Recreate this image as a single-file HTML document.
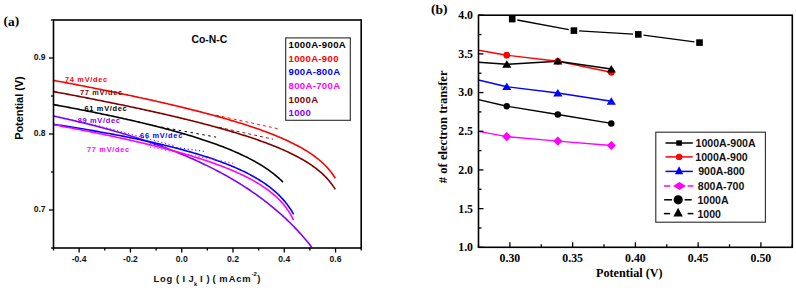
<!DOCTYPE html>
<html><head><meta charset="utf-8"><style>
html,body{margin:0;padding:0;background:#fff;}
svg{display:block;}
</style></head><body>
<svg width="796" height="290" viewBox="0 0 796 290">
<rect width="796" height="290" fill="#fff"/>
<path d="M53.50,116.07 L55.00,116.39 L56.50,116.71 L58.00,117.03 L59.50,117.36 L61.00,117.69 L62.50,118.02 L64.00,118.35 L65.50,118.68 L67.00,119.02 L68.50,119.36 L70.00,119.71 L71.50,120.05 L73.00,120.40 L74.50,120.75 L76.00,121.10 L77.50,121.46 L79.00,121.81 L80.50,122.17 L82.00,122.54 L83.50,122.90 L85.00,123.27 L86.50,123.64 L88.00,124.01 L89.50,124.39 L91.00,124.77 L92.50,125.15 L94.00,125.54 L95.50,125.92 L97.00,126.32 L98.50,126.71 L100.00,127.11 L101.50,127.50 L103.00,127.91 L104.50,128.31 L106.00,128.72 L107.50,129.13 L109.00,129.55 L110.50,129.96 L112.00,130.39 L113.50,130.81 L115.00,131.24 L116.50,131.67 L118.00,132.10 L119.50,132.54 L121.00,132.98 L122.50,133.43 L124.00,133.87 L125.50,134.33 L127.00,134.78 L128.50,135.24 L130.00,135.70 L131.50,136.17 L133.00,136.64 L134.50,137.11 L136.00,137.59 L137.50,138.07 L139.00,138.56 L140.50,139.04 L142.00,139.54 L143.50,140.04 L145.00,140.54 L146.50,141.04 L148.00,141.55 L149.50,142.07 L151.00,142.58 L152.50,143.11 L154.00,143.63 L155.50,144.17 L157.00,144.70 L158.50,145.24 L160.00,145.79 L161.50,146.34 L163.00,146.89 L164.50,147.45 L166.00,148.02 L167.50,148.59 L169.00,149.16 L170.50,149.74 L172.00,150.33 L173.50,150.92 L175.00,151.51 L176.50,152.11 L178.00,152.72 L179.50,153.33 L181.00,153.95 L182.50,154.57 L184.00,155.20 L185.50,155.84 L187.00,156.48 L188.50,157.12 L190.00,157.78 L191.50,158.44 L193.00,159.10 L194.50,159.77 L196.00,160.45 L197.50,161.14 L199.00,161.83 L200.50,162.53 L202.00,163.23 L203.50,163.95 L205.00,164.67 L206.50,165.39 L208.00,166.13 L209.50,166.87 L211.00,167.62 L212.50,168.38 L214.00,169.14 L215.50,169.91 L217.00,170.70 L218.50,171.49 L220.00,172.28 L221.50,173.09 L223.00,173.91 L224.50,174.73 L226.00,175.56 L227.50,176.41 L229.00,177.26 L230.50,178.12 L232.00,178.99 L233.50,179.87 L235.00,180.76 L236.50,181.66 L238.00,182.58 L239.50,183.50 L241.00,184.43 L242.50,185.38 L244.00,186.33 L245.50,187.30 L247.00,188.28 L248.50,189.27 L250.00,190.28 L251.50,191.29 L253.00,192.32 L254.50,193.37 L256.00,194.42 L257.50,195.49 L259.00,196.58 L260.50,197.67 L262.00,198.79 L263.50,199.91 L265.00,201.06 L266.50,202.22 L268.00,203.39 L269.50,204.58 L271.00,205.79 L272.50,207.02 L274.00,208.26 L275.50,209.52 L277.00,210.80 L278.50,212.10 L280.00,213.42 L281.50,214.76 L283.00,216.12 L284.50,217.51 L286.00,218.91 L287.50,220.34 L289.00,221.79 L290.50,223.26 L292.00,224.76 L293.50,226.28 L295.00,227.83 L296.50,229.41 L298.00,231.02 L299.50,232.65 L301.00,234.31 L302.50,236.01 L304.00,237.73 L305.50,239.49 L307.00,241.28 L308.50,243.11 L310.00,244.98 L311.50,246.88 L311.70,247.13" fill="none" stroke="#8000ff" stroke-width="1.6" stroke-linejoin="round"/>
<path d="M53.50,124.26 L55.00,124.49 L56.50,124.72 L58.00,124.95 L59.50,125.18 L61.00,125.41 L62.50,125.65 L64.00,125.89 L65.50,126.12 L67.00,126.36 L68.50,126.60 L70.00,126.84 L71.50,127.08 L73.00,127.33 L74.50,127.57 L76.00,127.81 L77.50,128.06 L79.00,128.31 L80.50,128.56 L82.00,128.81 L83.50,129.06 L85.00,129.31 L86.50,129.57 L88.00,129.82 L89.50,130.08 L91.00,130.34 L92.50,130.60 L94.00,130.86 L95.50,131.12 L97.00,131.38 L98.50,131.65 L100.00,131.92 L101.50,132.18 L103.00,132.45 L104.50,132.73 L106.00,133.00 L107.50,133.27 L109.00,133.55 L110.50,133.83 L112.00,134.11 L113.50,134.39 L115.00,134.67 L116.50,134.96 L118.00,135.24 L119.50,135.53 L121.00,135.82 L122.50,136.12 L124.00,136.41 L125.50,136.71 L127.00,137.00 L128.50,137.30 L130.00,137.61 L131.50,137.91 L133.00,138.22 L134.50,138.52 L136.00,138.83 L137.50,139.15 L139.00,139.46 L140.50,139.78 L142.00,140.10 L143.50,140.42 L145.00,140.74 L146.50,141.07 L148.00,141.40 L149.50,141.73 L151.00,142.07 L152.50,142.40 L154.00,142.74 L155.50,143.09 L157.00,143.43 L158.50,143.78 L160.00,144.13 L161.50,144.48 L163.00,144.84 L164.50,145.20 L166.00,145.56 L167.50,145.93 L169.00,146.30 L170.50,146.67 L172.00,147.05 L173.50,147.43 L175.00,147.81 L176.50,148.20 L178.00,148.59 L179.50,148.99 L181.00,149.39 L182.50,149.79 L184.00,150.20 L185.50,150.61 L187.00,151.02 L188.50,151.44 L190.00,151.87 L191.50,152.30 L193.00,152.73 L194.50,153.17 L196.00,153.61 L197.50,154.06 L199.00,154.51 L200.50,154.97 L202.00,155.44 L203.50,155.91 L205.00,156.39 L206.50,156.87 L208.00,157.36 L209.50,157.85 L211.00,158.35 L212.50,158.86 L214.00,159.38 L215.50,159.90 L217.00,160.43 L218.50,160.97 L220.00,161.51 L221.50,162.07 L223.00,162.63 L224.50,163.20 L226.00,163.78 L227.50,164.37 L229.00,164.97 L230.50,165.58 L232.00,166.20 L233.50,166.83 L235.00,167.47 L236.50,168.13 L238.00,168.80 L239.50,169.47 L241.00,170.17 L242.50,170.87 L244.00,171.59 L245.50,172.33 L247.00,173.08 L248.50,173.85 L250.00,174.64 L251.50,175.44 L253.00,176.27 L254.50,177.11 L256.00,177.98 L257.50,178.86 L259.00,179.78 L260.50,180.71 L262.00,181.68 L263.50,182.67 L265.00,183.69 L266.50,184.75 L268.00,185.84 L269.50,186.97 L271.00,188.13 L272.50,189.34 L274.00,190.60 L275.50,191.91 L277.00,193.27 L278.50,194.69 L280.00,196.18 L281.50,197.74 L283.00,199.38 L284.50,201.11 L286.00,202.94 L287.50,204.88 L289.00,206.94 L290.50,209.16 L292.00,211.53 L293.50,214.11 L293.60,214.29" fill="none" stroke="#0000ff" stroke-width="1.6" stroke-linejoin="round"/>
<path d="M53.50,124.72 L55.00,124.99 L56.50,125.27 L58.00,125.55 L59.50,125.82 L61.00,126.10 L62.50,126.38 L64.00,126.66 L65.50,126.94 L67.00,127.22 L68.50,127.51 L70.00,127.79 L71.50,128.07 L73.00,128.36 L74.50,128.65 L76.00,128.94 L77.50,129.23 L79.00,129.52 L80.50,129.81 L82.00,130.10 L83.50,130.39 L85.00,130.69 L86.50,130.98 L88.00,131.28 L89.50,131.58 L91.00,131.88 L92.50,132.18 L94.00,132.48 L95.50,132.78 L97.00,133.09 L98.50,133.39 L100.00,133.70 L101.50,134.01 L103.00,134.32 L104.50,134.63 L106.00,134.94 L107.50,135.25 L109.00,135.57 L110.50,135.89 L112.00,136.20 L113.50,136.52 L115.00,136.84 L116.50,137.17 L118.00,137.49 L119.50,137.82 L121.00,138.14 L122.50,138.47 L124.00,138.80 L125.50,139.14 L127.00,139.47 L128.50,139.81 L130.00,140.14 L131.50,140.48 L133.00,140.82 L134.50,141.17 L136.00,141.51 L137.50,141.86 L139.00,142.21 L140.50,142.56 L142.00,142.91 L143.50,143.27 L145.00,143.62 L146.50,143.98 L148.00,144.35 L149.50,144.71 L151.00,145.08 L152.50,145.44 L154.00,145.81 L155.50,146.19 L157.00,146.56 L158.50,146.94 L160.00,147.32 L161.50,147.71 L163.00,148.09 L164.50,148.48 L166.00,148.87 L167.50,149.27 L169.00,149.66 L170.50,150.07 L172.00,150.47 L173.50,150.88 L175.00,151.29 L176.50,151.70 L178.00,152.11 L179.50,152.53 L181.00,152.96 L182.50,153.39 L184.00,153.82 L185.50,154.25 L187.00,154.69 L188.50,155.13 L190.00,155.58 L191.50,156.03 L193.00,156.48 L194.50,156.94 L196.00,157.41 L197.50,157.87 L199.00,158.35 L200.50,158.82 L202.00,159.31 L203.50,159.80 L205.00,160.29 L206.50,160.79 L208.00,161.29 L209.50,161.80 L211.00,162.32 L212.50,162.84 L214.00,163.37 L215.50,163.91 L217.00,164.45 L218.50,165.00 L220.00,165.56 L221.50,166.12 L223.00,166.70 L224.50,167.28 L226.00,167.87 L227.50,168.47 L229.00,169.07 L230.50,169.69 L232.00,170.32 L233.50,170.95 L235.00,171.60 L236.50,172.26 L238.00,172.93 L239.50,173.61 L241.00,174.31 L242.50,175.02 L244.00,175.74 L245.50,176.48 L247.00,177.23 L248.50,178.00 L250.00,178.78 L251.50,179.59 L253.00,180.41 L254.50,181.25 L256.00,182.12 L257.50,183.01 L259.00,183.92 L260.50,184.85 L262.00,185.82 L263.50,186.81 L265.00,187.83 L266.50,188.89 L268.00,189.99 L269.50,191.12 L271.00,192.29 L272.50,193.52 L274.00,194.79 L275.50,196.12 L277.00,197.51 L278.50,198.96 L280.00,200.50 L281.50,202.11 L283.00,203.82 L284.50,205.64 L286.00,207.58 L287.50,209.67 L289.00,211.92 L290.50,214.38 L292.00,217.07 L293.50,220.06 L293.60,220.27" fill="none" stroke="#ff00ff" stroke-width="1.6" stroke-linejoin="round"/>
<path d="M53.50,104.58 L55.00,104.86 L56.50,105.13 L58.00,105.41 L59.50,105.69 L61.00,105.96 L62.50,106.24 L64.00,106.52 L65.50,106.80 L67.00,107.08 L68.50,107.37 L70.00,107.65 L71.50,107.93 L73.00,108.22 L74.50,108.51 L76.00,108.79 L77.50,109.08 L79.00,109.37 L80.50,109.67 L82.00,109.96 L83.50,110.25 L85.00,110.55 L86.50,110.84 L88.00,111.14 L89.50,111.44 L91.00,111.74 L92.50,112.04 L94.00,112.34 L95.50,112.65 L97.00,112.95 L98.50,113.26 L100.00,113.57 L101.50,113.88 L103.00,114.19 L104.50,114.50 L106.00,114.81 L107.50,115.13 L109.00,115.44 L110.50,115.76 L112.00,116.08 L113.50,116.40 L115.00,116.73 L116.50,117.05 L118.00,117.38 L119.50,117.70 L121.00,118.03 L122.50,118.36 L124.00,118.70 L125.50,119.03 L127.00,119.37 L128.50,119.71 L130.00,120.05 L131.50,120.39 L133.00,120.73 L134.50,121.08 L136.00,121.43 L137.50,121.78 L139.00,122.13 L140.50,122.48 L142.00,122.84 L143.50,123.20 L145.00,123.56 L146.50,123.92 L148.00,124.29 L149.50,124.65 L151.00,125.02 L152.50,125.39 L154.00,125.77 L155.50,126.15 L157.00,126.53 L158.50,126.91 L160.00,127.29 L161.50,127.68 L163.00,128.07 L164.50,128.46 L166.00,128.86 L167.50,129.26 L169.00,129.66 L170.50,130.07 L172.00,130.47 L173.50,130.89 L175.00,131.30 L176.50,131.72 L178.00,132.14 L179.50,132.56 L181.00,132.99 L182.50,133.42 L184.00,133.86 L185.50,134.30 L187.00,134.74 L188.50,135.19 L190.00,135.64 L191.50,136.10 L193.00,136.56 L194.50,137.02 L196.00,137.49 L197.50,137.96 L199.00,138.44 L200.50,138.92 L202.00,139.41 L203.50,139.90 L205.00,140.40 L206.50,140.91 L208.00,141.42 L209.50,141.93 L211.00,142.45 L212.50,142.98 L214.00,143.51 L215.50,144.05 L217.00,144.60 L218.50,145.15 L220.00,145.71 L221.50,146.28 L223.00,146.86 L224.50,147.44 L226.00,148.03 L227.50,148.63 L229.00,149.24 L230.50,149.85 L232.00,150.48 L233.50,151.12 L235.00,151.76 L236.50,152.42 L238.00,153.09 L239.50,153.76 L241.00,154.45 L242.50,155.16 L244.00,155.87 L245.50,156.60 L247.00,157.34 L248.50,158.10 L250.00,158.87 L251.50,159.66 L253.00,160.46 L254.50,161.29 L256.00,162.13 L257.50,162.99 L259.00,163.87 L260.50,164.77 L262.00,165.69 L263.50,166.64 L265.00,167.62 L266.50,168.62 L268.00,169.65 L269.50,170.72 L271.00,171.82 L272.50,172.95 L274.00,174.12 L275.50,175.33 L277.00,176.59 L278.50,177.90 L280.00,179.26 L281.50,180.67 L283.00,182.16" fill="none" stroke="#000000" stroke-width="1.6" stroke-linejoin="round"/>
<path d="M53.50,91.59 L55.00,91.86 L56.50,92.14 L58.00,92.42 L59.50,92.70 L61.00,92.98 L62.50,93.27 L64.00,93.55 L65.50,93.83 L67.00,94.11 L68.50,94.40 L70.00,94.68 L71.50,94.97 L73.00,95.25 L74.50,95.54 L76.00,95.83 L77.50,96.11 L79.00,96.40 L80.50,96.69 L82.00,96.98 L83.50,97.27 L85.00,97.56 L86.50,97.85 L88.00,98.15 L89.50,98.44 L91.00,98.73 L92.50,99.03 L94.00,99.32 L95.50,99.62 L97.00,99.92 L98.50,100.21 L100.00,100.51 L101.50,100.81 L103.00,101.11 L104.50,101.41 L106.00,101.71 L107.50,102.02 L109.00,102.32 L110.50,102.62 L112.00,102.93 L113.50,103.23 L115.00,103.54 L116.50,103.85 L118.00,104.16 L119.50,104.47 L121.00,104.78 L122.50,105.09 L124.00,105.40 L125.50,105.71 L127.00,106.03 L128.50,106.34 L130.00,106.66 L131.50,106.98 L133.00,107.29 L134.50,107.61 L136.00,107.93 L137.50,108.26 L139.00,108.58 L140.50,108.90 L142.00,109.23 L143.50,109.55 L145.00,109.88 L146.50,110.21 L148.00,110.54 L149.50,110.87 L151.00,111.20 L152.50,111.53 L154.00,111.87 L155.50,112.20 L157.00,112.54 L158.50,112.88 L160.00,113.22 L161.50,113.56 L163.00,113.90 L164.50,114.24 L166.00,114.59 L167.50,114.93 L169.00,115.28 L170.50,115.63 L172.00,115.98 L173.50,116.34 L175.00,116.69 L176.50,117.05 L178.00,117.40 L179.50,117.76 L181.00,118.12 L182.50,118.49 L184.00,118.85 L185.50,119.22 L187.00,119.58 L188.50,119.95 L190.00,120.33 L191.50,120.70 L193.00,121.07 L194.50,121.45 L196.00,121.83 L197.50,122.21 L199.00,122.60 L200.50,122.98 L202.00,123.37 L203.50,123.76 L205.00,124.15 L206.50,124.55 L208.00,124.95 L209.50,125.35 L211.00,125.75 L212.50,126.15 L214.00,126.56 L215.50,126.97 L217.00,127.38 L218.50,127.80 L220.00,128.22 L221.50,128.64 L223.00,129.06 L224.50,129.49 L226.00,129.92 L227.50,130.36 L229.00,130.79 L230.50,131.23 L232.00,131.68 L233.50,132.13 L235.00,132.58 L236.50,133.03 L238.00,133.49 L239.50,133.95 L241.00,134.42 L242.50,134.89 L244.00,135.37 L245.50,135.85 L247.00,136.33 L248.50,136.82 L250.00,137.31 L251.50,137.81 L253.00,138.31 L254.50,138.82 L256.00,139.34 L257.50,139.86 L259.00,140.38 L260.50,140.92 L262.00,141.45 L263.50,142.00 L265.00,142.55 L266.50,143.11 L268.00,143.67 L269.50,144.24 L271.00,144.82 L272.50,145.41 L274.00,146.01 L275.50,146.61 L277.00,147.23 L278.50,147.85 L280.00,148.48 L281.50,149.13 L283.00,149.78 L284.50,150.45 L286.00,151.12 L287.50,151.81 L289.00,152.51 L290.50,153.23 L292.00,153.96 L293.50,154.70 L295.00,155.46 L296.50,156.24 L298.00,157.03 L299.50,157.85 L301.00,158.68 L302.50,159.53 L304.00,160.41 L305.50,161.31 L307.00,162.23 L308.50,163.18 L310.00,164.17 L311.50,165.18 L313.00,166.23 L314.50,167.31 L316.00,168.44 L317.50,169.61 L319.00,170.82 L320.50,172.10 L322.00,173.43 L323.50,174.82 L325.00,176.29 L326.50,177.85 L328.00,179.50 L329.50,181.25 L331.00,183.13 L332.50,185.16 L334.00,187.37 L335.30,189.45" fill="none" stroke="#800000" stroke-width="1.6" stroke-linejoin="round"/>
<path d="M53.50,80.36 L55.00,80.64 L56.50,80.92 L58.00,81.20 L59.50,81.48 L61.00,81.76 L62.50,82.05 L64.00,82.33 L65.50,82.61 L67.00,82.90 L68.50,83.18 L70.00,83.47 L71.50,83.76 L73.00,84.04 L74.50,84.33 L76.00,84.62 L77.50,84.91 L79.00,85.20 L80.50,85.49 L82.00,85.78 L83.50,86.07 L85.00,86.36 L86.50,86.66 L88.00,86.95 L89.50,87.25 L91.00,87.54 L92.50,87.84 L94.00,88.13 L95.50,88.43 L97.00,88.73 L98.50,89.03 L100.00,89.33 L101.50,89.63 L103.00,89.93 L104.50,90.23 L106.00,90.54 L107.50,90.84 L109.00,91.15 L110.50,91.45 L112.00,91.76 L113.50,92.07 L115.00,92.37 L116.50,92.68 L118.00,92.99 L119.50,93.30 L121.00,93.61 L122.50,93.93 L124.00,94.24 L125.50,94.56 L127.00,94.87 L128.50,95.19 L130.00,95.51 L131.50,95.82 L133.00,96.14 L134.50,96.46 L136.00,96.79 L137.50,97.11 L139.00,97.43 L140.50,97.76 L142.00,98.08 L143.50,98.41 L145.00,98.74 L146.50,99.07 L148.00,99.40 L149.50,99.73 L151.00,100.06 L152.50,100.40 L154.00,100.73 L155.50,101.07 L157.00,101.41 L158.50,101.75 L160.00,102.09 L161.50,102.43 L163.00,102.78 L164.50,103.12 L166.00,103.47 L167.50,103.82 L169.00,104.16 L170.50,104.52 L172.00,104.87 L173.50,105.22 L175.00,105.58 L176.50,105.93 L178.00,106.29 L179.50,106.65 L181.00,107.02 L182.50,107.38 L184.00,107.74 L185.50,108.11 L187.00,108.48 L188.50,108.85 L190.00,109.23 L191.50,109.60 L193.00,109.98 L194.50,110.36 L196.00,110.74 L197.50,111.12 L199.00,111.50 L200.50,111.89 L202.00,112.28 L203.50,112.67 L205.00,113.07 L206.50,113.46 L208.00,113.86 L209.50,114.26 L211.00,114.66 L212.50,115.07 L214.00,115.48 L215.50,115.89 L217.00,116.30 L218.50,116.72 L220.00,117.14 L221.50,117.56 L223.00,117.99 L224.50,118.42 L226.00,118.85 L227.50,119.28 L229.00,119.72 L230.50,120.16 L232.00,120.61 L233.50,121.06 L235.00,121.51 L236.50,121.97 L238.00,122.43 L239.50,122.89 L241.00,123.36 L242.50,123.83 L244.00,124.30 L245.50,124.78 L247.00,125.27 L248.50,125.76 L250.00,126.25 L251.50,126.75 L253.00,127.26 L254.50,127.77 L256.00,128.28 L257.50,128.80 L259.00,129.33 L260.50,129.86 L262.00,130.40 L263.50,130.95 L265.00,131.50 L266.50,132.06 L268.00,132.62 L269.50,133.19 L271.00,133.78 L272.50,134.36 L274.00,134.96 L275.50,135.57 L277.00,136.18 L278.50,136.80 L280.00,137.44 L281.50,138.08 L283.00,138.73 L284.50,139.40 L286.00,140.08 L287.50,140.77 L289.00,141.47 L290.50,142.18 L292.00,142.91 L293.50,143.66 L295.00,144.41 L296.50,145.19 L298.00,145.98 L299.50,146.80 L301.00,147.63 L302.50,148.48 L304.00,149.36 L305.50,150.25 L307.00,151.18 L308.50,152.13 L310.00,153.11 L311.50,154.12 L313.00,155.17 L314.50,156.25 L316.00,157.37 L317.50,158.54 L319.00,159.75 L320.50,161.02 L322.00,162.35 L323.50,163.74 L325.00,165.21 L326.50,166.76 L328.00,168.40 L329.50,170.15 L331.00,172.02 L332.50,174.04 L334.00,176.23 L335.30,178.30" fill="none" stroke="#ff0000" stroke-width="1.6" stroke-linejoin="round"/>
<path d="M216,115.2 L280,129.2" stroke="#ff0000" stroke-width="0.9" stroke-dasharray="3,3" fill="none"/>
<path d="M219,127.3 L273,139.2" stroke="#800000" stroke-width="0.9" stroke-dasharray="3,3" fill="none"/>
<path d="M161,127 L216,137.1" stroke="#000000" stroke-width="1" stroke-dasharray="2.5,3.5" fill="none"/>
<path d="M150,143.8 L206,151.6" stroke="#0000ff" stroke-width="1" stroke-dasharray="1.2,2.6" fill="none"/>
<path d="M150,147 L235,163.6" stroke="#ff00ff" stroke-width="1" stroke-dasharray="1.2,2.6" fill="none"/>
<path d="M95,124.9 L175,145.9" stroke="#8000ff" stroke-width="1" stroke-dasharray="1.2,2.6" fill="none"/>
<rect x="53.5" y="20.0" width="307.7" height="228.0" fill="none" stroke="#000" stroke-width="1.6"/>
<line x1="49.0" y1="210.00" x2="53.5" y2="210.00" stroke="#000" stroke-width="1.3"/>
<text x="45.6" y="212.40" text-anchor="end" font-family='"Liberation Sans", sans-serif' font-weight="bold" font-size="8.6" fill="#111">0.7</text>
<line x1="49.0" y1="134.00" x2="53.5" y2="134.00" stroke="#000" stroke-width="1.3"/>
<text x="45.6" y="136.40" text-anchor="end" font-family='"Liberation Sans", sans-serif' font-weight="bold" font-size="8.6" fill="#111">0.8</text>
<line x1="49.0" y1="58.00" x2="53.5" y2="58.00" stroke="#000" stroke-width="1.3"/>
<text x="45.6" y="60.40" text-anchor="end" font-family='"Liberation Sans", sans-serif' font-weight="bold" font-size="8.6" fill="#111">0.9</text>
<line x1="51.0" y1="248.00" x2="53.5" y2="248.00" stroke="#000" stroke-width="1.3"/>
<line x1="51.0" y1="172.00" x2="53.5" y2="172.00" stroke="#000" stroke-width="1.3"/>
<line x1="51.0" y1="96.00" x2="53.5" y2="96.00" stroke="#000" stroke-width="1.3"/>
<line x1="51.0" y1="20.00" x2="53.5" y2="20.00" stroke="#000" stroke-width="1.3"/>
<line x1="53.50" y1="248.0" x2="53.50" y2="250.5" stroke="#000" stroke-width="1.3"/>
<line x1="79.14" y1="248.0" x2="79.14" y2="252.5" stroke="#000" stroke-width="1.3"/>
<text x="79.14" y="261.8" text-anchor="middle" font-family='"Liberation Sans", sans-serif' font-weight="bold" font-size="8.6" fill="#111">-0.4</text>
<line x1="104.78" y1="248.0" x2="104.78" y2="250.5" stroke="#000" stroke-width="1.3"/>
<line x1="130.43" y1="248.0" x2="130.43" y2="252.5" stroke="#000" stroke-width="1.3"/>
<text x="130.43" y="261.8" text-anchor="middle" font-family='"Liberation Sans", sans-serif' font-weight="bold" font-size="8.6" fill="#111">-0.2</text>
<line x1="156.07" y1="248.0" x2="156.07" y2="250.5" stroke="#000" stroke-width="1.3"/>
<line x1="181.71" y1="248.0" x2="181.71" y2="252.5" stroke="#000" stroke-width="1.3"/>
<text x="181.71" y="261.8" text-anchor="middle" font-family='"Liberation Sans", sans-serif' font-weight="bold" font-size="8.6" fill="#111">0.0</text>
<line x1="207.35" y1="248.0" x2="207.35" y2="250.5" stroke="#000" stroke-width="1.3"/>
<line x1="232.99" y1="248.0" x2="232.99" y2="252.5" stroke="#000" stroke-width="1.3"/>
<text x="232.99" y="261.8" text-anchor="middle" font-family='"Liberation Sans", sans-serif' font-weight="bold" font-size="8.6" fill="#111">0.2</text>
<line x1="258.63" y1="248.0" x2="258.63" y2="250.5" stroke="#000" stroke-width="1.3"/>
<line x1="284.27" y1="248.0" x2="284.27" y2="252.5" stroke="#000" stroke-width="1.3"/>
<text x="284.27" y="261.8" text-anchor="middle" font-family='"Liberation Sans", sans-serif' font-weight="bold" font-size="8.6" fill="#111">0.4</text>
<line x1="309.92" y1="248.0" x2="309.92" y2="250.5" stroke="#000" stroke-width="1.3"/>
<line x1="335.56" y1="248.0" x2="335.56" y2="252.5" stroke="#000" stroke-width="1.3"/>
<text x="335.56" y="261.8" text-anchor="middle" font-family='"Liberation Sans", sans-serif' font-weight="bold" font-size="8.6" fill="#111">0.6</text>
<line x1="361.20" y1="248.0" x2="361.20" y2="250.5" stroke="#000" stroke-width="1.3"/>
<rect x="285.7" y="37.9" width="64.6" height="82.4" fill="#fff" stroke="#2a2a2a" stroke-width="1.1"/>
<text x="288.6" y="48.10" font-family='"Liberation Sans", sans-serif' font-weight="bold" font-size="9.6" letter-spacing="0.3" fill="#000">1000A-900A</text>
<text x="288.6" y="61.50" font-family='"Liberation Sans", sans-serif' font-weight="bold" font-size="9.6" letter-spacing="0.3" fill="#ff0000">1000A-900</text>
<text x="288.6" y="75.00" font-family='"Liberation Sans", sans-serif' font-weight="bold" font-size="9.6" letter-spacing="0.3" fill="#0000ff">900A-800A</text>
<text x="288.6" y="88.80" font-family='"Liberation Sans", sans-serif' font-weight="bold" font-size="9.6" letter-spacing="0.3" fill="#ff00ff">800A-700A</text>
<text x="288.6" y="103.40" font-family='"Liberation Sans", sans-serif' font-weight="bold" font-size="9.6" letter-spacing="0.3" fill="#800000">1000A</text>
<text x="288.6" y="115.60" font-family='"Liberation Sans", sans-serif' font-weight="bold" font-size="9.6" letter-spacing="0.3" fill="#8000ff">1000</text>
<text x="191.4" y="42.6" font-family='"Liberation Sans", sans-serif' font-weight="bold" font-size="10.4" letter-spacing="0" fill="#000">Co-N-C</text>
<text x="65.0" y="82.0" font-family='"Liberation Sans", sans-serif' font-weight="bold" font-size="7.4" letter-spacing="0.7" fill="#ff0000">74 mV/dec</text>
<text x="79.9" y="94.6" font-family='"Liberation Sans", sans-serif' font-weight="bold" font-size="7.4" letter-spacing="0.7" fill="#800000">77 mV/dec</text>
<text x="84.5" y="111.0" font-family='"Liberation Sans", sans-serif' font-weight="bold" font-size="7.4" letter-spacing="0.7" fill="#000">61 mV/dec</text>
<text x="77.7" y="122.5" font-family='"Liberation Sans", sans-serif' font-weight="bold" font-size="7.4" letter-spacing="0.7" fill="#8000ff">89 mV/dec</text>
<text x="140.1" y="138.4" font-family='"Liberation Sans", sans-serif' font-weight="bold" font-size="7.4" letter-spacing="0.7" fill="#0000ff">66 mV/dec</text>
<text x="87.0" y="151.9" font-family='"Liberation Sans", sans-serif' font-weight="bold" font-size="7.4" letter-spacing="0.7" fill="#ff00ff">77 mV/dec</text>
<text transform="translate(22.6,139.8) rotate(-90)" font-family='"Liberation Sans", sans-serif' font-weight="bold" font-size="10.9" fill="#000">Potential (V)</text>
<text x="153.6" y="282.3" font-family='"Liberation Sans", sans-serif' font-weight='bold' fill='#111' font-size="9.4" letter-spacing="0.75">Log</text>
<text x="176.1" y="282.3" font-family='"Liberation Sans", sans-serif' font-weight='bold' fill='#111' font-size="9.4" letter-spacing="0">(</text>
<text x="182.5" y="282.3" font-family='"Liberation Sans", sans-serif' font-weight='bold' fill='#111' font-size="9.4" letter-spacing="0">I</text>
<text x="188.5" y="282.3" font-family='"Liberation Sans", sans-serif' font-weight='bold' fill='#111' font-size="9.4" letter-spacing="0">J</text>
<text x="194.1" y="286.2" font-family='"Liberation Sans", sans-serif' font-weight='bold' fill='#111' font-size="5.8" letter-spacing="0">k</text>
<text x="200.0" y="282.3" font-family='"Liberation Sans", sans-serif' font-weight='bold' fill='#111' font-size="9.4" letter-spacing="0">I</text>
<text x="206.5" y="282.3" font-family='"Liberation Sans", sans-serif' font-weight='bold' fill='#111' font-size="9.4" letter-spacing="0">)</text>
<text x="212.4" y="282.3" font-family='"Liberation Sans", sans-serif' font-weight='bold' fill='#111' font-size="9.4" letter-spacing="0">(</text>
<text x="219.2" y="282.3" font-family='"Liberation Sans", sans-serif' font-weight='bold' fill='#111' font-size="9.4" letter-spacing="0">m</text>
<text x="228.8" y="282.3" font-family='"Liberation Sans", sans-serif' font-weight='bold' fill='#111' font-size="9.4" letter-spacing="0.75">Acm</text>
<text x="251.5" y="275.5" font-family='"Liberation Sans", sans-serif' font-weight='bold' fill='#111' font-size="6" letter-spacing="0">-2</text>
<text x="257.3" y="282.3" font-family='"Liberation Sans", sans-serif' font-weight='bold' fill='#111' font-size="9.4" letter-spacing="0">)</text>
<text x="3.5" y="25.1" font-family='"Liberation Serif", serif' font-weight="bold" font-size="13.4" fill="#000">(<tspan dy="1.3">a</tspan><tspan dy="-1.3">)</tspan></text>
<path d="M478.50,131.40 L506.80,136.60 L557.80,141.10 L611.30,145.50" fill="none" stroke="#ff00ff" stroke-width="1.4"/>
<path d="M478.50,99.60 L506.80,106.20 L557.80,114.50 L611.30,123.40" fill="none" stroke="#000000" stroke-width="1.4"/>
<path d="M478.50,80.00 L506.80,86.70 L557.80,93.00 L611.30,101.30" fill="none" stroke="#0000ff" stroke-width="1.4"/>
<path d="M478.50,50.30 L506.80,55.20 L557.80,61.30 L611.30,72.30" fill="none" stroke="#ff0000" stroke-width="1.4"/>
<path d="M478.50,62.30 L506.80,64.30 L557.80,61.20 L611.30,69.00" fill="none" stroke="#000000" stroke-width="1.4"/>
<line x1="517.31" y1="20.05" x2="568.79" y2="29.65" stroke="#000" stroke-width="1.4"/>
<line x1="579.09" y1="30.91" x2="633.11" y2="34.09" stroke="#000" stroke-width="1.4"/>
<line x1="643.45" y1="35.09" x2="694.35" y2="41.91" stroke="#000" stroke-width="1.4"/>
<path d="M506.80,132.00 L511.40,136.60 L506.80,141.20 L502.20,136.60 Z" fill="#ff00ff"/>
<path d="M557.80,136.50 L562.40,141.10 L557.80,145.70 L553.20,141.10 Z" fill="#ff00ff"/>
<path d="M611.30,140.90 L615.90,145.50 L611.30,150.10 L606.70,145.50 Z" fill="#ff00ff"/>
<circle cx="506.80" cy="106.20" r="3.23" fill="#000000"/>
<circle cx="557.80" cy="114.50" r="3.23" fill="#000000"/>
<circle cx="611.30" cy="123.40" r="3.23" fill="#000000"/>
<path d="M506.80,82.70 L511.40,90.10 L502.20,90.10 Z" fill="#0000ff"/>
<path d="M557.80,89.00 L562.40,96.40 L553.20,96.40 Z" fill="#0000ff"/>
<path d="M611.30,97.30 L615.90,104.70 L606.70,104.70 Z" fill="#0000ff"/>
<circle cx="506.80" cy="55.20" r="3.40" fill="#ff0000"/>
<circle cx="557.80" cy="61.30" r="3.40" fill="#ff0000"/>
<circle cx="611.30" cy="72.30" r="3.40" fill="#ff0000"/>
<path d="M506.80,60.30 L511.40,67.70 L502.20,67.70 Z" fill="#000000"/>
<path d="M557.80,57.20 L562.40,64.60 L553.20,64.60 Z" fill="#000000"/>
<path d="M611.30,65.00 L615.90,72.40 L606.70,72.40 Z" fill="#000000"/>
<rect x="508.90" y="15.80" width="6.60" height="6.60" fill="#000"/>
<rect x="570.60" y="27.30" width="6.60" height="6.60" fill="#000"/>
<rect x="635.00" y="31.10" width="6.60" height="6.60" fill="#000"/>
<rect x="696.20" y="39.30" width="6.60" height="6.60" fill="#000"/>
<rect x="478.5" y="15.2" width="313.79999999999995" height="232.10000000000002" fill="none" stroke="#000" stroke-width="1.6"/>
<line x1="478.5" y1="247.30" x2="483.5" y2="247.30" stroke="#000" stroke-width="1.3"/>
<text x="473" y="251.20" text-anchor="end" font-family='"Liberation Serif", serif' font-weight="bold" font-size="11.8" fill="#000">1.0</text>
<line x1="478.5" y1="227.96" x2="481.5" y2="227.96" stroke="#000" stroke-width="1.3"/>
<line x1="478.5" y1="208.62" x2="483.5" y2="208.62" stroke="#000" stroke-width="1.3"/>
<text x="473" y="212.52" text-anchor="end" font-family='"Liberation Serif", serif' font-weight="bold" font-size="11.8" fill="#000">1.5</text>
<line x1="478.5" y1="189.28" x2="481.5" y2="189.28" stroke="#000" stroke-width="1.3"/>
<line x1="478.5" y1="169.93" x2="483.5" y2="169.93" stroke="#000" stroke-width="1.3"/>
<text x="473" y="173.83" text-anchor="end" font-family='"Liberation Serif", serif' font-weight="bold" font-size="11.8" fill="#000">2.0</text>
<line x1="478.5" y1="150.59" x2="481.5" y2="150.59" stroke="#000" stroke-width="1.3"/>
<line x1="478.5" y1="131.25" x2="483.5" y2="131.25" stroke="#000" stroke-width="1.3"/>
<text x="473" y="135.15" text-anchor="end" font-family='"Liberation Serif", serif' font-weight="bold" font-size="11.8" fill="#000">2.5</text>
<line x1="478.5" y1="111.91" x2="481.5" y2="111.91" stroke="#000" stroke-width="1.3"/>
<line x1="478.5" y1="92.57" x2="483.5" y2="92.57" stroke="#000" stroke-width="1.3"/>
<text x="473" y="96.47" text-anchor="end" font-family='"Liberation Serif", serif' font-weight="bold" font-size="11.8" fill="#000">3.0</text>
<line x1="478.5" y1="73.22" x2="481.5" y2="73.22" stroke="#000" stroke-width="1.3"/>
<line x1="478.5" y1="53.88" x2="483.5" y2="53.88" stroke="#000" stroke-width="1.3"/>
<text x="473" y="57.78" text-anchor="end" font-family='"Liberation Serif", serif' font-weight="bold" font-size="11.8" fill="#000">3.5</text>
<line x1="478.5" y1="34.54" x2="481.5" y2="34.54" stroke="#000" stroke-width="1.3"/>
<line x1="478.5" y1="15.20" x2="483.5" y2="15.20" stroke="#000" stroke-width="1.3"/>
<text x="473" y="19.10" text-anchor="end" font-family='"Liberation Serif", serif' font-weight="bold" font-size="11.8" fill="#000">4.0</text>
<line x1="478.50" y1="247.3" x2="478.50" y2="244.3" stroke="#000" stroke-width="1.3"/>
<line x1="509.88" y1="247.3" x2="509.88" y2="242.3" stroke="#000" stroke-width="1.3"/>
<text x="509.88" y="262" text-anchor="middle" font-family='"Liberation Serif", serif' font-weight="bold" font-size="11.8" fill="#000">0.30</text>
<line x1="541.26" y1="247.3" x2="541.26" y2="244.3" stroke="#000" stroke-width="1.3"/>
<line x1="572.64" y1="247.3" x2="572.64" y2="242.3" stroke="#000" stroke-width="1.3"/>
<text x="572.64" y="262" text-anchor="middle" font-family='"Liberation Serif", serif' font-weight="bold" font-size="11.8" fill="#000">0.35</text>
<line x1="604.02" y1="247.3" x2="604.02" y2="244.3" stroke="#000" stroke-width="1.3"/>
<line x1="635.40" y1="247.3" x2="635.40" y2="242.3" stroke="#000" stroke-width="1.3"/>
<text x="635.40" y="262" text-anchor="middle" font-family='"Liberation Serif", serif' font-weight="bold" font-size="11.8" fill="#000">0.40</text>
<line x1="666.78" y1="247.3" x2="666.78" y2="244.3" stroke="#000" stroke-width="1.3"/>
<line x1="698.16" y1="247.3" x2="698.16" y2="242.3" stroke="#000" stroke-width="1.3"/>
<text x="698.16" y="262" text-anchor="middle" font-family='"Liberation Serif", serif' font-weight="bold" font-size="11.8" fill="#000">0.45</text>
<line x1="729.54" y1="247.3" x2="729.54" y2="244.3" stroke="#000" stroke-width="1.3"/>
<line x1="760.92" y1="247.3" x2="760.92" y2="242.3" stroke="#000" stroke-width="1.3"/>
<text x="760.92" y="262" text-anchor="middle" font-family='"Liberation Serif", serif' font-weight="bold" font-size="11.8" fill="#000">0.50</text>
<line x1="792.30" y1="247.3" x2="792.30" y2="244.3" stroke="#000" stroke-width="1.3"/>
<text x="596" y="276.8" font-family='"Liberation Serif", serif' font-weight="bold" font-size="12.2" fill="#000">Potential (V)</text>
<text transform="translate(447.2,183.2) rotate(-90)" font-family='"Liberation Serif", serif' font-weight="bold" font-size="12.6" fill="#000"># of electron transfer</text>
<text x="431" y="13.1" font-family='"Liberation Serif", serif' font-weight="bold" font-size="13.5" fill="#000">(<tspan dy="0.8">b</tspan><tspan dy="-0.8">)</tspan></text>
<rect x="655.8" y="132.2" width="109.6" height="90.0" fill="#fff" stroke="#2a2a2a" stroke-width="1.1"/>
<line x1="665.5" y1="143.00" x2="692.8" y2="143.00" stroke="#000" stroke-width="1.5"/>
<rect x="676.30" y="140.30" width="5.6" height="5.4" fill="#000"/>
<text x="695.5" y="146.90" font-family='"Liberation Sans", sans-serif' font-weight="bold" font-size="10.6" fill="#111">1000A-900A</text>
<line x1="665.5" y1="156.90" x2="692.8" y2="156.90" stroke="#ff0000" stroke-width="1.5"/>
<circle cx="679.10" cy="156.90" r="3.2" fill="#ff0000"/>
<text x="695.3" y="160.80" font-family='"Liberation Sans", sans-serif' font-weight="bold" font-size="10.6" fill="#111">1000A-900</text>
<line x1="665.5" y1="171.40" x2="692.8" y2="171.40" stroke="#0000ff" stroke-width="1.5"/>
<path d="M679.10,166.20 L683.30,174.20 L674.90,174.20 Z" fill="#0000ff"/>
<text x="698.2" y="175.30" font-family='"Liberation Sans", sans-serif' font-weight="bold" font-size="10.6" fill="#111">900A-800</text>
<line x1="663.9" y1="186.00" x2="670.2" y2="186.00" stroke="#ff00ff" stroke-width="1.5"/>
<line x1="687.6" y1="186.00" x2="693.4" y2="186.00" stroke="#ff00ff" stroke-width="1.5"/>
<path d="M679.50,182.10 L685.90,186.00 L679.50,189.90 L673.10,186.00 Z" fill="#ff00ff"/>
<text x="697.8" y="189.90" font-family='"Liberation Sans", sans-serif' font-weight="bold" font-size="10.6" fill="#111">800A-700</text>
<line x1="664.1" y1="199.80" x2="672.0" y2="199.80" stroke="#000" stroke-width="1.5"/>
<line x1="684.6" y1="199.80" x2="691.7" y2="199.80" stroke="#000" stroke-width="1.5"/>
<circle cx="678.20" cy="199.80" r="4.6" fill="#000"/>
<text x="697.4" y="203.70" font-family='"Liberation Sans", sans-serif' font-weight="bold" font-size="10.6" fill="#111">1000A</text>
<line x1="663.9" y1="213.60" x2="670.2" y2="213.60" stroke="#000" stroke-width="1.5"/>
<line x1="687.6" y1="213.60" x2="693.4" y2="213.60" stroke="#000" stroke-width="1.5"/>
<path d="M678.10,207.70 L682.80,216.60 L673.40,216.60 Z" fill="#000"/>
<text x="697.4" y="217.50" font-family='"Liberation Sans", sans-serif' font-weight="bold" font-size="10.6" fill="#111">1000</text>
</svg>
</body></html>
